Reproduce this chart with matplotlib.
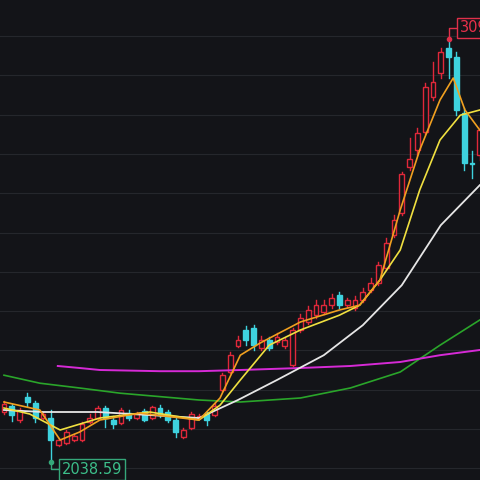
import numpy as np
import matplotlib.pyplot as plt
from matplotlib.patches import Rectangle

# candle data (open, close, high, low)
opens  = [2159,2174,2139,2196,2181,2144,2144,2076,2081,2089,2089,2134,2144,2169,2139,2131,2156,2144,2161,2144,
          2169,2159,2139,2096,2119,2144,2154,2151,2214,2259,2324,2364,2369,2319,2339,2334,2324,2276,2364,2384,
          2401,2409,2426,2451,2426,2419,2439,2464,2481,2519,2601,2656,2771,2814,2859,2946,3006,3069,3046,2906,2781,2801]
closes = [2179,2151,2164,2184,2144,2154,2089,2089,2109,2099,2129,2144,2169,2144,2129,2164,2144,2154,2139,2171,
          2151,2139,2109,2114,2154,2149,2139,2174,2251,2301,2339,2339,2326,2339,2319,2346,2339,2364,2394,2414,
          2426,2426,2444,2426,2439,2439,2459,2481,2526,2581,2639,2754,2791,2856,2971,2984,3059,3046,2914,2781,2779,2864]
highs  = [2186,2179,2169,2206,2186,2159,2164,2094,2114,2104,2134,2154,2174,2174,2149,2169,2164,2159,2166,2174,
          2176,2164,2146,2119,2159,2154,2159,2181,2256,2309,2349,2374,2376,2349,2346,2356,2344,2369,2404,2424,
          2439,2439,2454,2459,2444,2449,2469,2494,2534,2594,2651,2759,2844,2869,2981,3034,3069,3092,3059,2919,2811,2876]
lows   = [2154,2136,2134,2174,2134,2141,2034,2074,2079,2086,2086,2131,2141,2121,2119,2129,2139,2141,2136,2141,
          2146,2134,2096,2094,2116,2141,2126,2149,2211,2256,2321,2326,2314,2314,2314,2329,2319,2274,2359,2379,
          2394,2404,2419,2419,2421,2414,2434,2459,2476,2514,2596,2651,2764,2801,2854,2939,2994,2994,2901,2764,2744,2789]

# moving average lines (candle index, price)
ma_white_x = [0,5,12,19,25,30,35,41,46,51,56,61]
ma_white_y = [2164,2159,2159,2151,2144,2189,2239,2301,2376,2476,2626,2726]
ma_yellow_x = [0,3.3,7.2,12.3,18.7,25,27.7,30.3,34,38,43,45.6,48.2,50.8,53.3,55.9,58.5,61]
ma_yellow_y = [2169,2154,2114,2144,2159,2139,2176,2239,2326,2364,2401,2426,2489,2564,2714,2839,2901,2914]
ma_orange_x = [0,4.6,7.2,9.7,12.3,17.4,25,27.7,30.3,32.8,38,43,45.6,48.2,50.8,53.3,55.9,57.6,59.1,61]
ma_orange_y = [2184,2164,2089,2109,2139,2156,2139,2194,2301,2331,2384,2414,2426,2489,2664,2814,2939,2994,2914,2864]
ma_green_x = [0,4.6,9.7,14.9,25,30.3,38,44.4,50.8,55.9,61]
ma_green_y = [2251,2231,2219,2206,2189,2184,2194,2219,2259,2326,2389]
ma_magenta_x = [6.9,9.7,12.3,20,25,30.3,38,44.4,50.8,55.9,61]
ma_magenta_y = [2274,2269,2264,2261,2261,2264,2269,2274,2284,2301,2314]

low_label = "2038.59"
high_label = "3091.86"

BG = "#131418"
RED = "#e0283a"
CYAN = "#3ed2de"

fig = plt.figure(figsize=(4.8, 4.8), dpi=100, facecolor=BG)
ax = fig.add_axes([0, 0, 1, 1])
ax.set_facecolor(BG)
ax.set_xlim(-0.51, 61.03)
ax.set_ylim(1989, 3189)
ax.axis("off")

for g in np.arange(3099, 1950, -98.25):
    ax.axhline(g, color="#25272c", lw=0.8, zorder=0)

w = 0.6
for i, (o, c, h, l) in enumerate(zip(opens, closes, highs, lows)):
    up = c >= o
    col = RED if up else CYAN
    lo, hi = min(o, c), max(o, c)
    ax.plot([i, i], [l, lo], color=col, lw=1, zorder=2)
    ax.plot([i, i], [hi, h], color=col, lw=1, zorder=2)
    ax.add_patch(Rectangle((i - w / 2, lo), w, max(hi - lo, 2),
                           facecolor=BG if up else col, edgecolor=col, lw=1, zorder=3))

ax.plot(ma_green_x, ma_green_y, color="#2aa52a", lw=1.2, zorder=4)
ax.plot(ma_magenta_x, ma_magenta_y, color="#d62ad6", lw=1.4, zorder=4)
ax.plot(ma_white_x, ma_white_y, color="#e6e6e6", lw=1.3, zorder=4)
ax.plot(ma_yellow_x, ma_yellow_y, color="#f0e040", lw=1.2, zorder=4)
ax.plot(ma_orange_x, ma_orange_y, color="#f0a020", lw=1.2, zorder=4)

# low marker
li = int(np.argmin(lows))
ax.plot([li, li, li + 1.3], [lows[li], 2016, 2016], color="#35a87a", lw=1, zorder=5)
ax.plot(li, lows[li], "o", color="#35a87a", ms=3, zorder=5)
ax.text(li + 1.4, 2016, low_label, color="#3cbf8a", fontsize=10.5, va="center", ha="left", zorder=6,
        bbox=dict(boxstyle="square,pad=0.2", fc=BG, ec="#35a87a", lw=1))

# high marker
hi_i = int(np.argmax(highs))
ax.plot([hi_i, hi_i, hi_i + 1.3], [highs[hi_i], 3119, 3119], color="#e0304a", lw=1, zorder=5)
ax.plot(hi_i, highs[hi_i], "o", color="#e0304a", ms=3, zorder=5)
ax.text(hi_i + 1.4, 3119, high_label, color="#e8304a", fontsize=10.5, va="center", ha="left", zorder=6,
        clip_on=False, bbox=dict(boxstyle="square,pad=0.2", fc=BG, ec="#e0304a", lw=1))

fig.savefig("out.png", dpi=100, facecolor=BG)
